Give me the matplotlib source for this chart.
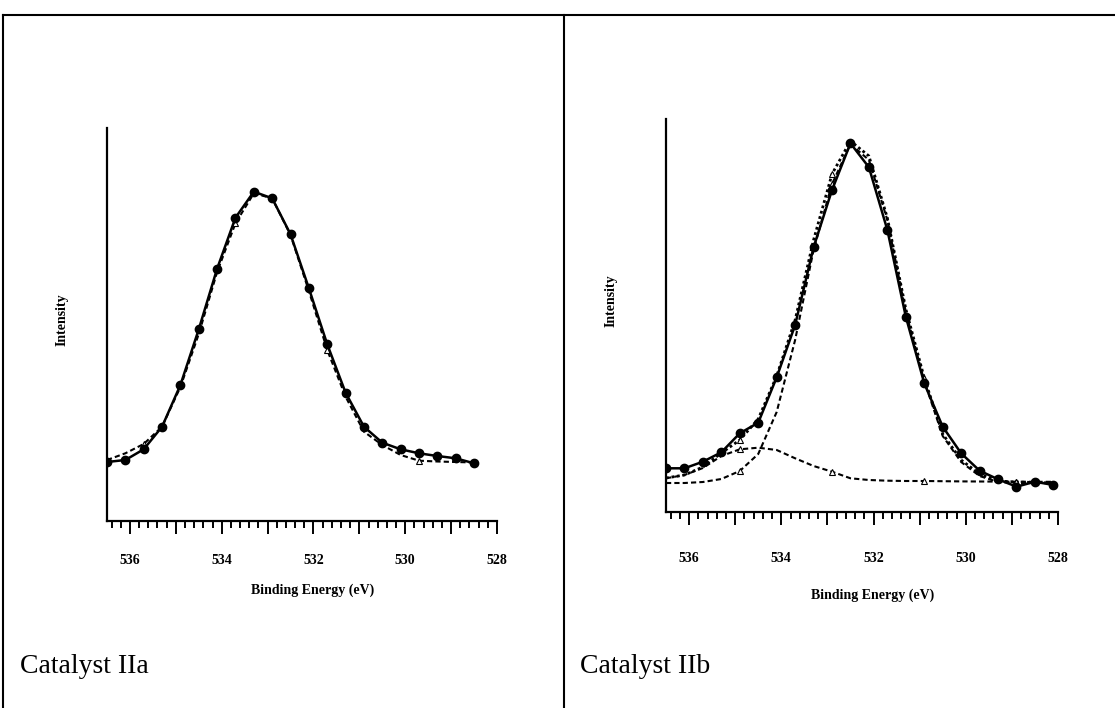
import matplotlib
matplotlib.use("Agg")
import matplotlib.pyplot as plt
from matplotlib.lines import Line2D
from matplotlib.ticker import MultipleLocator, FuncFormatter

plt.rcParams['font.family'] = ['Liberation Serif', 'DejaVu Serif']
plt.rcParams['font.weight'] = 'bold'

W, H = 1115, 708

# Catalyst IIa
energy_a = [536.5, 536.1, 535.7, 535.3, 534.9, 534.5, 534.1, 533.7, 533.3, 532.9, 532.5,
            532.1, 531.7, 531.3, 530.9, 530.5, 530.1, 529.7, 529.3, 528.9, 528.5]
data_a = [59, 61, 71.7, 94.3, 136, 191.7, 252.3, 303.3, 329.3, 322.7, 286.7,
          232.7, 176.7, 128.3, 94.3, 78.3, 71.7, 67.7, 65, 62.7, 57.7]
fit_a = [61, 67.7, 77, 94.3, 134, 187, 249, 297.7, 327.7, 322.7, 286,
         230, 171, 124.3, 89.3, 76, 66, 60.3, 59.5, 59, 58.5]

# Catalyst IIb
energy_b = [536.5, 536.1, 535.7, 535.3, 534.9, 534.5, 534.1, 533.7, 533.3, 532.9, 532.5,
            532.1, 531.7, 531.3, 530.9, 530.5, 530.1, 529.7, 529.3, 528.9, 528.5, 528.1]
data_b = [43.7, 43.7, 50.3, 59.7, 78.7, 89.3, 134.7, 187, 264.7, 322, 368.7,
          344.7, 282, 195.3, 128.7, 85.3, 58.7, 41.3, 32.7, 25.3, 30.3, 27]
envelope_b = [34, 37, 45, 59, 72, 93, 136, 192, 272, 338, 371,
              356, 294, 203, 134, 78, 52, 38, 31, 30, 29.5, 29]
peak1_b = [29, 29, 30, 33, 41, 58, 100, 172, 262, 328, 368,
           352, 292, 200, 131, 76, 50, 36, 30, 29, 29, 29]
peak2_b = [33.7, 37, 44, 56, 62.7, 64.3, 62, 53.7, 46, 40.3, 33.7,
           32, 31.3, 31, 31, 30.8, 30.6, 30.5, 30.4, 30.3, 30.2, 30.2]


def px_rect(left, top, right, bottom):
    return [left / W, 1 - bottom / H, (right - left) / W, (bottom - top) / H]


def style_axis(ax, pad):
    for s in ['top', 'right']:
        ax.spines[s].set_visible(False)
    for s in ['left', 'bottom']:
        ax.spines[s].set_linewidth(1.6)
    ax.set_xlim(536.5, 528)
    ax.set_ylim(0, 393)
    ax.set_yticks([])
    ax.xaxis.set_major_locator(MultipleLocator(1))
    ax.xaxis.set_minor_locator(MultipleLocator(0.2))
    ax.xaxis.set_major_formatter(FuncFormatter(
        lambda v, p: '%d' % round(v) if round(v) % 2 == 0 else ''))
    ax.tick_params(axis='x', which='major', direction='out', length=9.5,
                   width=1.4, pad=pad, labelsize=10)
    ax.tick_params(axis='x', which='minor', direction='out', length=5, width=1.4)
    ax.patch.set_alpha(0)


fig = plt.figure(figsize=(W / 100, H / 100), dpi=100)

ax1 = fig.add_axes(px_rect(107, 128, 497, 521))
style_axis(ax1, 14)
ax1.plot(energy_a, fit_a, color='black', lw=1.5, ls=(0, (2.5, 1.5)),
         marker='^', ms=5, mfc='white', mec='black', mew=0.8, markevery=(2, 5))
ax1.plot(energy_a, data_a, color='black', lw=1.8, marker='o', ms=6)
ax1.set_xlabel('Binding Energy (eV)', fontsize=10, fontweight='bold')
ax1.xaxis.set_label_coords(0.526, -0.158)
ax1.set_ylabel('Intensity', fontsize=10, fontweight='bold')
ax1.yaxis.set_label_coords((69 - 107) / 390, (521 - 320) / 393)

ax2 = fig.add_axes(px_rect(666, 119, 1058, 512))
style_axis(ax2, 19)
ax2.plot(energy_b, peak2_b, color='black', lw=1.5, ls=(0, (2.5, 1.5)),
         marker='^', ms=5, mfc='white', mec='black', mew=0.8, markevery=(4, 5))
ax2.plot(energy_b, peak1_b, color='black', lw=1.5, ls=(0, (2.5, 1.5)),
         marker='^', ms=5, mfc='white', mec='black', mew=0.8, markevery=(4, 5))
ax2.plot(energy_b, envelope_b, color='black', lw=2, ls=(0, (1, 1)),
         marker='^', ms=5, mfc='white', mec='black', mew=0.8, markevery=(4, 5))
ax2.plot(energy_b, data_b, color='black', lw=1.8, marker='o', ms=6)
ax2.set_xlabel('Binding Energy (eV)', fontsize=10, fontweight='bold')
ax2.xaxis.set_label_coords(0.526, -0.194)
ax2.set_ylabel('Intensity', fontsize=10, fontweight='bold')
ax2.yaxis.set_label_coords((618 - 666) / 392, (512 - 301) / 393)

fig.text(20 / W, 1 - 673 / H, 'Catalyst IIa', fontsize=20, fontweight='normal',
         va='baseline', ha='left')
fig.text(580 / W, 1 - 673 / H, 'Catalyst IIb', fontsize=20, fontweight='normal',
         va='baseline', ha='left')

# outer table-like frame
frame = dict(transform=fig.transFigure, color='black', lw=1.5)
fig.add_artist(Line2D([3 / W, 1], [1 - 15 / H, 1 - 15 / H], **frame))
fig.add_artist(Line2D([3 / W, 3 / W], [0, 1 - 15 / H], **frame))
fig.add_artist(Line2D([564 / W, 564 / W], [0, 1 - 15 / H], **frame))

fig.savefig('out.png', dpi=100)
